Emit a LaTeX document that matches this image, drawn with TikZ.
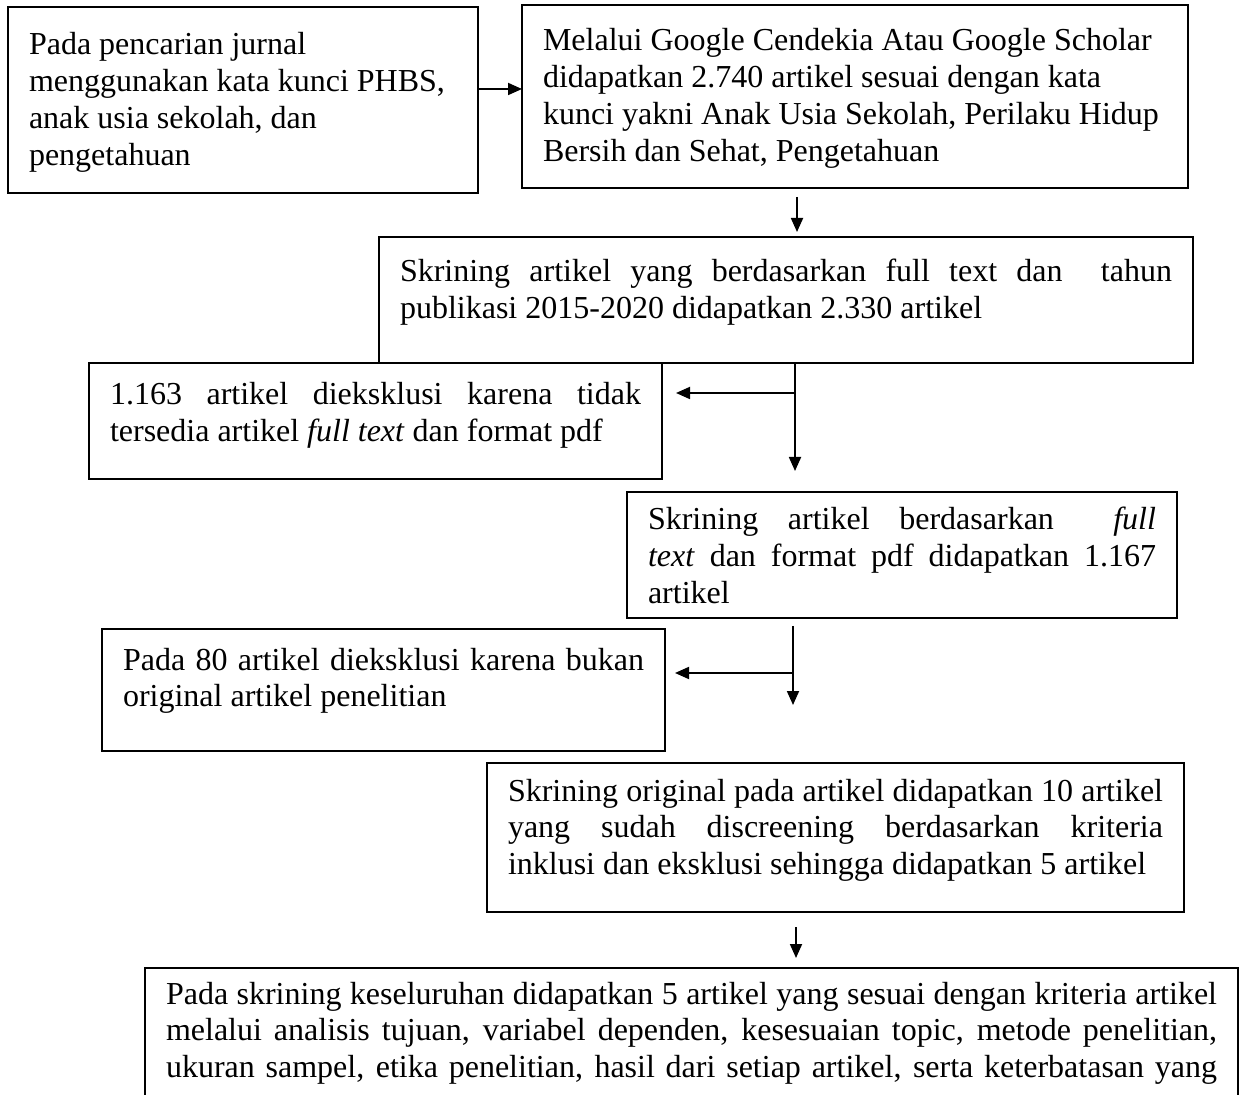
\documentclass[tikz,border=0pt]{standalone}
\usepackage{fontspec}
\setmainfont{Liberation Serif}
\usetikzlibrary{arrows.meta}
\newcommand{\jl}[1]{\makebox[\linewidth][s]{#1}\par}
\newcommand{\rl}[1]{\makebox[\linewidth][l]{#1}\par}
\newcommand{\bt}[4]{\parbox[t][#2][t]{#1}{\rule{0pt}{#3}#4}}
\begin{document}
\begin{tikzpicture}[x=0.5pt,y=-0.5pt,
  flowbox/.style={draw, line width=1.2pt, inner xsep=10.5pt, inner ysep=0pt, outer sep=0pt, anchor=north west, font=\fontsize{16pt}{18.4pt}\selectfont},
  arr/.style={line width=0.9pt, -{Triangle[length=7pt,width=6pt]}}]
\useasboundingbox (0,0) rectangle (1257,1095);
\fill[white] (0,0) rectangle (1257,1095);
\clip (0,0) rectangle (1257,1095);

\node[flowbox] (b1) at (8,7) {\bt{214pt}{93pt}{24pt}{\rl{Pada pencarian jurnal}\rl{menggunakan kata kunci PHBS,}\rl{anak usia sekolah, dan}\rl{pengetahuan}}};

\node[flowbox] (b2) at (522,5) {\bt{312pt}{91.5pt}{23pt}{\rl{Melalui Google Cendekia Atau Google Scholar}\rl{didapatkan 2.740 artikel sesuai dengan kata}\rl{kunci yakni Anak Usia Sekolah, Perilaku Hidup}\rl{Bersih dan Sehat, Pengetahuan}}};

\node[flowbox] (b3) at (379,237) {\bt{386pt}{63pt}{22.5pt}{\jl{Skrining artikel yang berdasarkan full text dan\ \ tahun}\rl{publikasi 2015-2020 didapatkan 2.330 artikel}}};

\node[flowbox] (b4) at (89,363) {\bt{265.5pt}{58pt}{21pt}{\jl{1.163 artikel dieksklusi karena tidak}\rl{tersedia artikel \textit{full text} dan format pdf}}};

\node[flowbox] (b5) at (627,492) {\bt{254pt}{63pt}{19pt}{\jl{Skrining artikel berdasarkan\ \ \textit{full}}\jl{\textit{text} dan format pdf didapatkan 1.167}\rl{artikel}}};

\node[flowbox] (b6) at (102,629) {\bt{260.5pt}{61pt}{20.5pt}{\jl{Pada 80 artikel dieksklusi karena bukan}\rl{original artikel penelitian}}};

\node[flowbox] (b7) at (487,763) {\bt{327.5pt}{74.5pt}{19pt}{\jl{Skrining original pada artikel didapatkan 10 artikel}\jl{yang sudah discreening berdasarkan kriteria}\rl{inklusi dan eksklusi sehingga didapatkan 5 artikel}}};

\node[flowbox] (b8) at (145,968) {\bt{525.5pt}{76pt}{18pt}{\jl{Pada skrining keseluruhan didapatkan 5 artikel yang sesuai dengan kriteria artikel}\jl{melalui analisis tujuan, variabel dependen, kesesuaian topic, metode penelitian,}\jl{ukuran sampel, etika penelitian, hasil dari setiap artikel, serta keterbatasan yang}}};

\coordinate (a1) at (0,89);
\draw[arr] (b1.east |- a1) -- (b2.west |- a1);
\coordinate (c1) at (797,0);
\draw[arr, shorten <=4.5pt, shorten >=2.5pt] (b2.south -| c1) -- (b3.north -| c1);
\coordinate (c2) at (795,471);
\draw[arr] (b3.south -| c2) -- (c2);
\coordinate (c3) at (795,393);
\draw[arr, shorten >=7pt] (c3) -- (b4.east |- c3);
\coordinate (c4) at (793,705);
\draw[arr, shorten <=4pt] (b5.south -| c4) -- (c4);
\coordinate (c5) at (793,673);
\draw[arr, shorten >=5pt] (c5) -- (b6.east |- c5);
\coordinate (c6) at (796,0);
\draw[arr, shorten <=7.5pt, shorten >=5pt] (b7.south -| c6) -- (b8.north -| c6);
\end{tikzpicture}
\end{document}
